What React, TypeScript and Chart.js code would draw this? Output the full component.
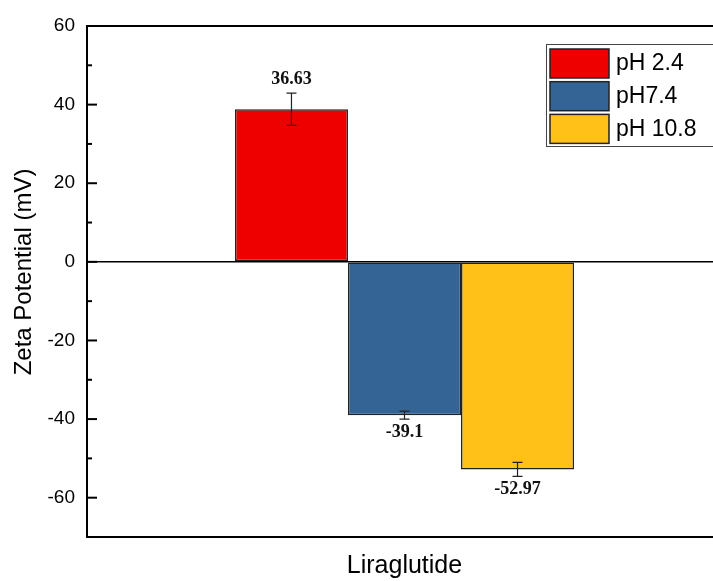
import React, { useEffect, useRef } from "react";
import { Chart, registerables } from "chart.js";

Chart.register(...registerables);

const categories = ["Liraglutide"];
const seriesNames = ["pH 2.4", "pH7.4", "pH 10.8"];
const seriesValues = [38.8, -39.0, -52.8];
const seriesErrors = [4.1, 1.0, 1.8];
const valueLabels = ["36.63", "-39.1", "-52.97"];
const seriesColors = ["#EE0000", "#346496", "#FFC118"];
const yTickValues = [-60, -40, -20, 0, 20, 40, 60];

const SANS = "'Liberation Sans', Arial, sans-serif";
const SERIF = "'Liberation Serif', 'Times New Roman', serif";

const extrasPlugin = {
  id: "extras",
  afterDraw(chart: any) {
    const ctx = chart.ctx;
    const area = chart.chartArea;
    const y = chart.scales.y;
    ctx.save();
    // top border
    ctx.strokeStyle = "#000";
    ctx.lineWidth = 2;
    ctx.beginPath();
    ctx.moveTo(area.left - 1, area.top);
    ctx.lineTo(area.right + 20, area.top);
    ctx.stroke();
    // inward ticks
    ctx.lineWidth = 2;
    y.ticks.forEach((t: any) => {
      if (t.value <= y.min || t.value >= y.max) return;
      const py = y.getPixelForValue(t.value);
      const len = yTickValues.includes(t.value) ? 10 : 5;
      ctx.beginPath();
      ctx.moveTo(area.left, py);
      ctx.lineTo(area.left + len, py);
      ctx.stroke();
    });
    // y title
    ctx.fillStyle = "#000";
    ctx.font = `24px ${SANS}`;
    ctx.translate(24, 272);
    ctx.rotate(-Math.PI / 2);
    ctx.textAlign = "center";
    ctx.textBaseline = "middle";
    ctx.fillText("Zeta Potential (mV)", 0, 0);
    ctx.restore();

    // legend
    ctx.save();
    const lx = 546, ly = 44, lw = 167, lh = 102;
    ctx.strokeStyle = "#444";
    ctx.lineWidth = 1;
    ctx.fillStyle = "#fff";
    ctx.fillRect(lx, ly, lw, lh);
    ctx.strokeRect(lx + 0.5, ly + 0.5, lw, lh);
    chart.data.datasets.forEach((ds: any, i: number) => {
      const sy = 49 + i * 32.7;
      ctx.fillStyle = ds.backgroundColor;
      ctx.fillRect(550, sy, 59, 29);
      ctx.strokeStyle = "#222";
      ctx.lineWidth = 1.5;
      ctx.strokeRect(550, sy, 59, 29);
      ctx.fillStyle = "#000";
      ctx.font = `23px ${SANS}`;
      ctx.textAlign = "left";
      ctx.textBaseline = "middle";
      ctx.fillText(ds.label, 616, sy + 15);
    });
    ctx.restore();
  },
  afterDatasetsDraw(chart: any) {
    const ctx = chart.ctx;
    const y = chart.scales.y;
    ctx.save();
    chart.data.datasets.forEach((ds: any, i: number) => {
      const meta = chart.getDatasetMeta(i);
      const bar = meta.data[0];
      const v = ds.data[0];
      const e = seriesErrors[i];
      const yt = y.getPixelForValue(v + e);
      const yb = y.getPixelForValue(v - e);
      const x = bar.x;
      ctx.strokeStyle = "#222";
      ctx.lineWidth = 1.2;
      ctx.beginPath();
      ctx.moveTo(x, yt);
      ctx.lineTo(x, yb);
      ctx.moveTo(x - 5, yt);
      ctx.lineTo(x + 5, yt);
      ctx.moveTo(x - 5, yb);
      ctx.lineTo(x + 5, yb);
      ctx.stroke();
      ctx.fillStyle = "#111";
      ctx.font = `bold 18px ${SERIF}`;
      ctx.textAlign = "center";
      ctx.textBaseline = "alphabetic";
      if (v >= 0) {
        ctx.fillText(valueLabels[i], x, yt - 9);
      } else {
        ctx.fillText(valueLabels[i], x, yb + 18);
      }
    });
    ctx.restore();
  },
};

export default function App() {
  const ref = useRef<HTMLCanvasElement>(null);
  useEffect(() => {
    if (!ref.current) return;
    const chart = new Chart(ref.current, {
      type: "bar",
      data: {
        labels: categories,
        datasets: seriesNames.map((name, i) => ({
          label: name,
          data: [seriesValues[i]],
          backgroundColor: seriesColors[i],
          borderColor: "#222",
          borderWidth: 1.5,
          borderSkipped: false,
          categoryPercentage: 0.534,
          barPercentage: 1,
        })),
      },
      options: {
        animation: false,
        responsive: false,
        maintainAspectRatio: false,
        layout: { padding: { top: 26, right: 18, left: 0, bottom: 0 } },
        plugins: {
          legend: { display: false },
          tooltip: { enabled: false },
        },
        scales: {
          x: {
            type: "category",
            ticks: { display: false },
            grid: { display: false, drawTicks: false },
            border: { display: true, color: "#000", width: 2 },
            title: {
              display: true,
              text: "Liraglutide",
              color: "#000",
              font: { family: SANS, size: 25 },
              padding: { top: 0, bottom: 0 },
            },
            afterFit: (s: any) => {
              s.height = 44;
            },
          },
          y: {
            min: -70,
            max: 60,
            ticks: {
              stepSize: 10,
              padding: 12,
              color: "#000",
              font: { family: SANS, size: 19 },
              callback: (v: any) => (yTickValues.includes(Number(v)) ? String(v) : ""),
            },
            grid: {
              display: true,
              drawTicks: false,
              color: (c: any) => (c.tick && c.tick.value === 0 ? "#000" : "rgba(0,0,0,0)"),
              lineWidth: 1.5,
            },
            border: { display: true, color: "#000", width: 2 },
            afterFit: (s: any) => {
              s.width = 87;
            },
          },
        },
      },
      plugins: [extrasPlugin],
    });
    return () => chart.destroy();
  }, []);
  return (
    <div
      style={{
        position: "fixed",
        left: 0,
        top: 0,
        width: 713,
        height: 581,
        overflow: "hidden",
        background: "#fff",
      }}
    >
      <canvas ref={ref} width={740} height={581} style={{ display: "block" }} />
    </div>
  );
}
